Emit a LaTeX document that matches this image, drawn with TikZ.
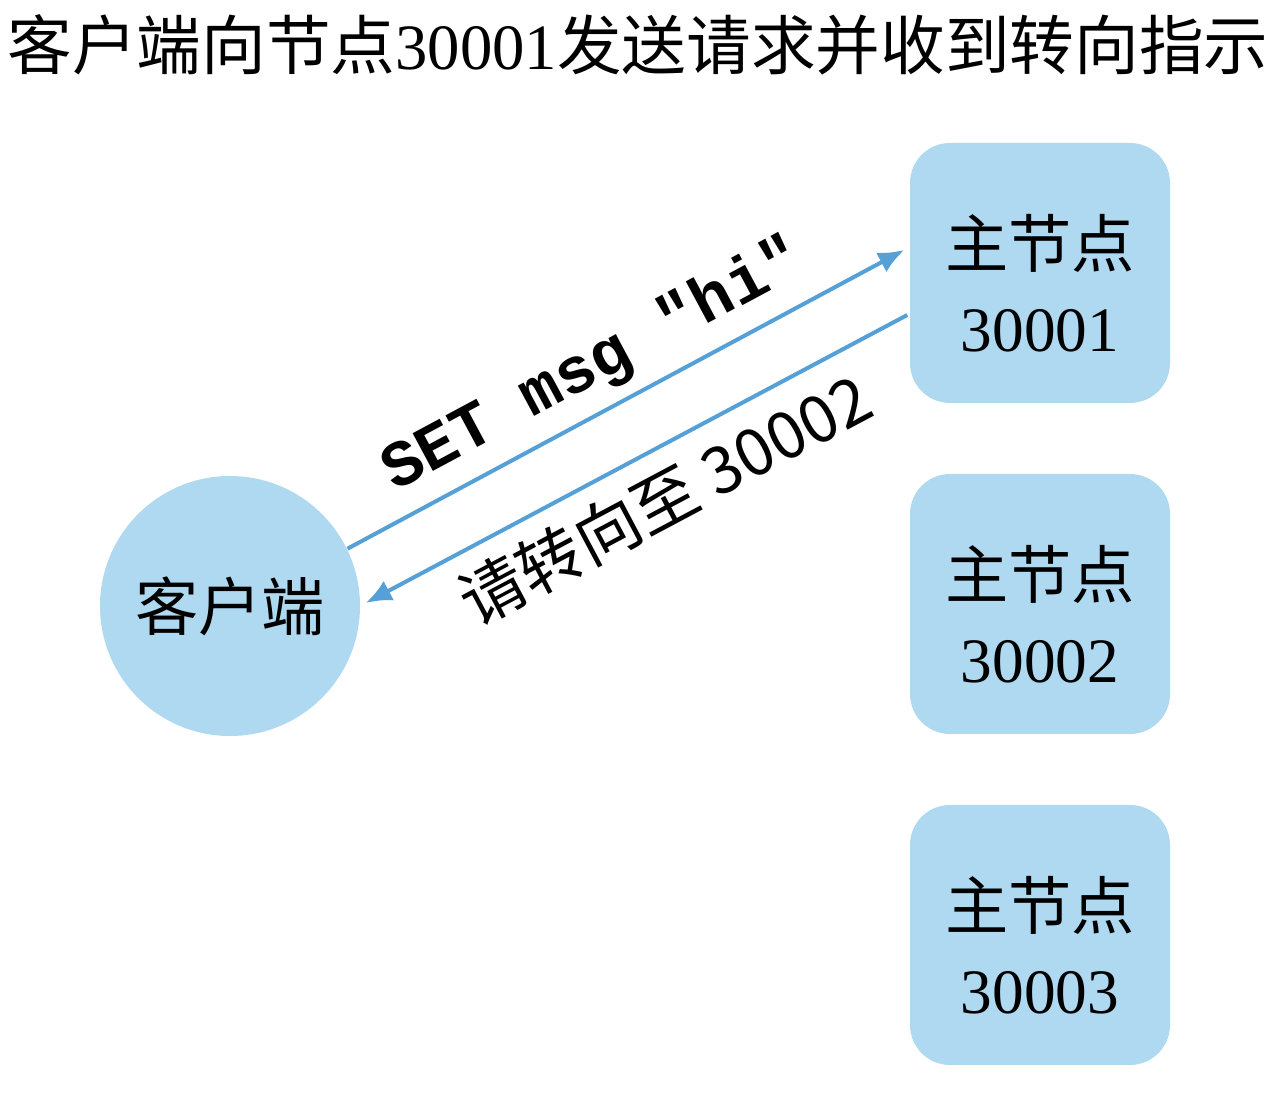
\documentclass[tikz,border=0pt]{standalone}
\usepackage{fontspec}
\setmainfont{Liberation Serif}
\setmonofont{Liberation Mono}
\newfontfamily\cjk{Noto Sans CJK SC}
\usetikzlibrary{calc}
\usetikzlibrary{arrows.meta}

\definecolor{nodeblue}{RGB}{174,217,240}
\definecolor{arrowblue}{RGB}{84,160,215}

\begin{document}
\begin{tikzpicture}[x = 0.1mm, y = -0.1mm,
    master/.style = {fill = nodeblue, rounded corners = 4mm, minimum width = 26mm, minimum height = 26mm,
        align = center, inner sep = 0pt, font = \fontsize{18}{24}\selectfont},
    client/.style = {circle, fill = nodeblue, minimum size = 26mm, inner sep = 0pt, font = \cjk\fontsize{18}{22}\selectfont},
    msg/.style = {draw = arrowblue, line width = 0.4mm, -{Latex[length = 2.6mm, width = 2.2mm]}}]
    \useasboundingbox (0,0) rectangle (1280,1120);

    \node (title) at (638,45) {\fontsize{18.4}{22}\selectfont{\cjk 客户端向节点}30001{\cjk 发送请求并收到转向指示}};

    \node[client] (client) at (230,606) {客户端};

    \foreach \p [count=\k] in {30001,30002,30003}
    {
     \node[master] (n\k) at (1040, 273 + 331*\k - 331) {\rule{0pt}{21pt}{\cjk 主节点}\\\p};
    }

    \draw[msg] (client.26) -- ($(n1.west) + (-5,-23)$)
        node[pos = 0.48, above = 0mm, sloped, font = \ttfamily\bfseries\fontsize{18.5}{20}\selectfont] {SET msg "hi"};
    \draw[msg] ($(n1.west) + (-2,42)$) -- ($(client.east) + (5,-3)$)
        node[pos = 0.49, below = 0.5mm, sloped, font = \cjk\fontsize{18.5}{20}\selectfont] {请转向至 30002};
\end{tikzpicture}
\end{document}
